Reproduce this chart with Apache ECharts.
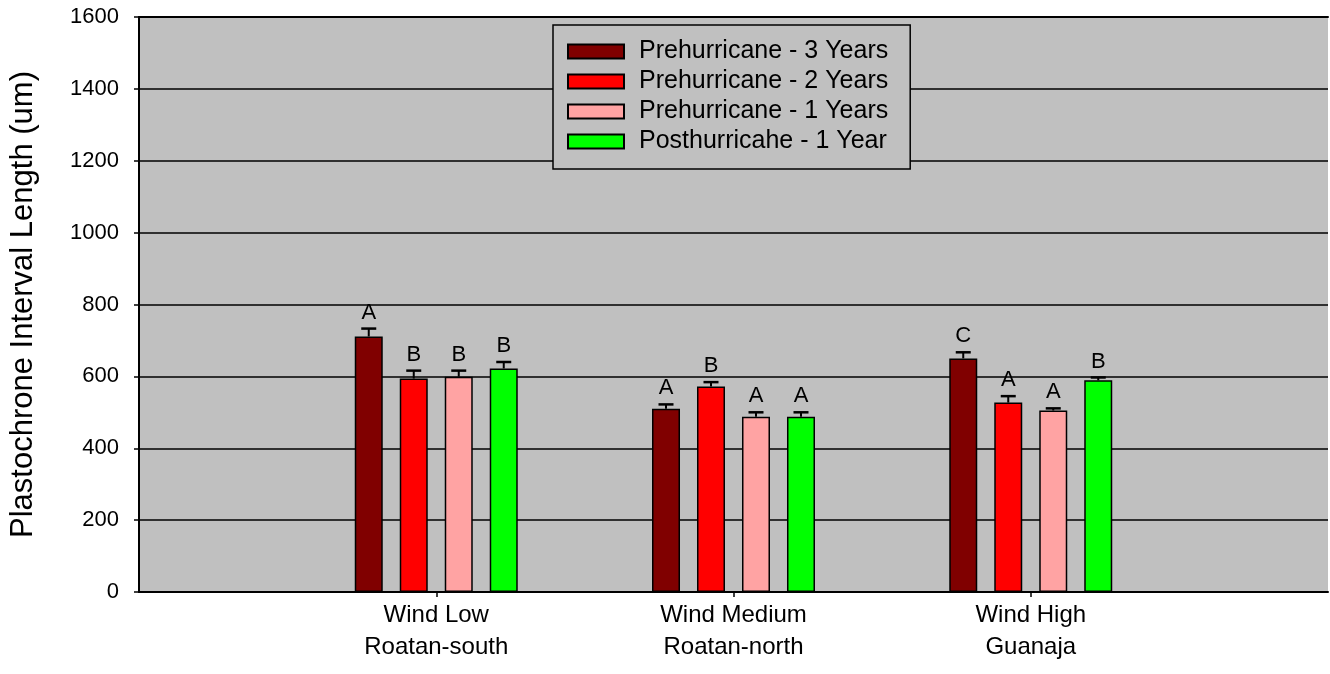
<!DOCTYPE html>
<html>
<head>
<meta charset="utf-8">
<script src="https://cdn.jsdelivr.net/npm/echarts@6/dist/echarts.min.js"></script>
<style>
  html, body { margin: 0; padding: 0; background: #ffffff; }
  #chart { width: 1330px; height: 674px; }
</style>
</head>
<body>
<div id="chart"></div>
<script>
// Site categories (two-line axis labels)
const categories = ['Wind Low\nRoatan-south', 'Wind Medium\nRoatan-north', 'Wind High\nGuanaja'];

// Series names
const seriesNames = ['Prehurricane - 3 Years', 'Prehurricane - 2 Years', 'Prehurricane - 1 Years', 'Posthurricahe - 1 Year'];

// Mean plastochrone interval length (um) per site
const pre3Years = [711, 510, 650];
const pre2Years = [594, 572, 527];
const pre1Years = [599, 488, 505];
const post1Year = [622, 488, 589];

// Standard error (upper bar only)
const pre3Err = [22, 12, 17];
const pre2Err = [22, 12, 18];
const pre1Err = [17, 12, 6];
const post1Err = [18, 12, 8];

// Significance letters
const pre3Letters = ['A', 'A', 'C'];
const pre2Letters = ['B', 'B', 'A'];
const pre1Letters = ['B', 'A', 'A'];
const post1Letters = ['B', 'A', 'B'];

// Y axis ticks
const yTicks = [0, 200, 400, 600, 800, 1000, 1200, 1400, 1600];

const colors = ['#800000', '#ff0000', '#ffa3a3', '#00ff00'];
const values = [pre3Years, pre2Years, pre1Years, post1Year];
const errors = [pre3Err, pre2Err, pre1Err, post1Err];
const letters = [pre3Letters, pre2Letters, pre1Letters, post1Letters];

const FONT = '"Liberation Sans", Arial, sans-serif';
const BAR_W = 28;
const BAR_GAP = 17;
const CAP_W = 15;

// padded category list: empty slots at both ends leave space around the groups
const axisCats = [''].concat(categories, ['']);
const pad = (arr) => ['-'].concat(arr, ['-']);
const showInner = (idx) => idx > 0 && idx < axisCats.length - 1;

const chart = echarts.init(document.getElementById('chart'), null, { renderer: 'canvas' });

const barSeries = values.map((vals, i) => ({
  name: seriesNames[i],
  type: 'bar',
  data: pad(vals),
  barWidth: BAR_W,
  barGap: (BAR_GAP / BAR_W * 100).toFixed(1) + '%',
  itemStyle: { color: colors[i], borderColor: '#000', borderWidth: 1.5 },
  z: 3
}));

// Error bar caps and significance letters, offset to sit over each bar
const errSeries = values.map((vals, i) => ({
  name: seriesNames[i] + ' err',
  type: 'custom',
  data: vals.map((v, k) => [k + 1, v, errors[i][k]]),
  z: 4,
  silent: true,
  renderItem: function (params, api) {
    const idx = api.value(0);
    const v = api.value(1);
    const e = api.value(2);
    const letter = letters[i][idx - 1];
    const offset = (i - (values.length - 1) / 2) * (BAR_W + BAR_GAP);
    const base = api.coord([idx, v]);
    const top = api.coord([idx, v + e]);
    const x = base[0] + offset;
    return {
      type: 'group',
      children: [
        { type: 'line', shape: { x1: x, y1: base[1], x2: x, y2: top[1] },
          style: { stroke: '#000', lineWidth: 2 } },
        { type: 'line', shape: { x1: x - CAP_W / 2, y1: top[1], x2: x + CAP_W / 2, y2: top[1] },
          style: { stroke: '#000', lineWidth: 2.5 } },
        { type: 'text', x: x, y: top[1] - 5,
          style: { text: letter, fill: '#000', font: '22px ' + FONT, align: 'center', verticalAlign: 'bottom' } }
      ]
    };
  }
}));

const option = {
  animation: false,
  backgroundColor: '#ffffff',
  textStyle: { fontFamily: FONT },
  grid: {
    left: 136, right: 2, top: 17, bottom: 82,
    show: true, backgroundColor: '#c0c0c0', borderWidth: 0
  },
  legend: {
    data: seriesNames,
    orient: 'vertical',
    left: 553, top: 25,
    itemWidth: 56, itemHeight: 14, itemGap: 5,
    icon: 'rect',
    backgroundColor: '#c0c0c0',
    borderColor: '#000', borderWidth: 1.5, borderRadius: 0,
    padding: [14, 10, 15, 14],
    textStyle: { fontSize: 25, lineHeight: 25, color: '#000', fontFamily: FONT, padding: [0, 12, 0, 10] }
  },
  xAxis: [{
    type: 'category',
    data: axisCats,
    boundaryGap: false,
    axisLine: { lineStyle: { color: '#000', width: 2 } },
    axisTick: { show: true, length: 5, interval: showInner, lineStyle: { color: '#000', width: 1.5 } },
    axisLabel: { interval: showInner, color: '#000', fontSize: 24, lineHeight: 32, margin: 7, fontFamily: FONT },
    splitLine: { show: false }
  }, {
    type: 'category',
    position: 'top',
    data: axisCats,
    boundaryGap: false,
    axisLine: { show: true, lineStyle: { color: '#000', width: 2 } },
    axisTick: { show: false },
    axisLabel: { show: false },
    splitLine: { show: false }
  }],
  yAxis: {
    type: 'value',
    min: yTicks[0],
    max: yTicks[yTicks.length - 1],
    interval: yTicks[1] - yTicks[0],
    name: 'Plastochrone Interval Length (um)',
    nameLocation: 'middle',
    nameGap: 100,
    nameTextStyle: { fontSize: 31, color: '#000', fontFamily: FONT },
    axisLine: { show: true, lineStyle: { color: '#000', width: 2 } },
    axisTick: { show: true, length: 5, lineStyle: { color: '#000', width: 1.5 } },
    axisLabel: { color: '#000', fontSize: 22, margin: 20, fontFamily: FONT, formatter: (v) => String(v) },
    splitLine: { show: true, lineStyle: { color: '#000', width: 1.5 } }
  },
  series: barSeries.concat(errSeries)
};

chart.setOption(option);
</script>
</body>
</html>
